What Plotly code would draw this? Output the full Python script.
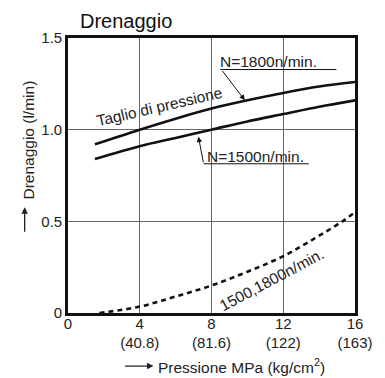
import plotly.graph_objects as go

# Data
p_1800 = [1.5, 4, 6, 8, 10, 12, 14, 16]
d_1800 = [0.92, 1.0, 1.06, 1.115, 1.16, 1.2, 1.235, 1.26]
p_1500 = [1.5, 4, 6, 8, 10, 12, 14, 16]
d_1500 = [0.84, 0.91, 0.955, 1.0, 1.045, 1.085, 1.125, 1.16]
p_leak = [1.75, 4, 6, 8, 10, 12, 13.8, 15.3, 16]
d_leak = [0.0, 0.035, 0.09, 0.15, 0.225, 0.31, 0.41, 0.5, 0.55]

x_tickvals = [0, 4, 8, 12, 16]
x_ticktext = ["0", "4<br>(40.8)", "8<br>(81.6)", "12<br>(122)", "16<br>(163)"]
y_tickvals = [0, 0.5, 1.0, 1.5]
y_ticktext = ["0", "0.5", "1.0", "1.5"]

FONT = "Liberation Sans, Arial, sans-serif"
TXT = "#222222"
LBL = 15.5

fig = go.Figure()
fig.add_trace(go.Scatter(x=p_1800, y=d_1800, mode="lines",
                         line=dict(color="#111111", width=2.6, shape="spline"),
                         showlegend=False, hoverinfo="skip"))
fig.add_trace(go.Scatter(x=p_1500, y=d_1500, mode="lines",
                         line=dict(color="#111111", width=2.6, shape="spline"),
                         showlegend=False, hoverinfo="skip"))
fig.add_trace(go.Scatter(x=p_leak, y=d_leak, mode="lines",
                         line=dict(color="#111111", width=2.6, shape="spline", dash="5px,4px"),
                         showlegend=False, hoverinfo="skip"))

def a(**kw):
    kw.setdefault("xanchor", "center")
    kw.setdefault("yanchor", "middle")
    return kw

ann = []
# Title
ann.append(a(text="Drenaggio", xref="paper", yref="paper", x=0.202, y=1.062,
             showarrow=False, font=dict(size=20, color="#111111", family=FONT)))
# Curve labels
ann.append(a(text="Taglio di pressione", x=5.1, y=1.128, textangle=-13,
             showarrow=False, font=dict(size=LBL, color=TXT, family=FONT)))
ann.append(a(text="1500,1800n/min.", x=11.37, y=0.182, textangle=-28,
             showarrow=False, font=dict(size=LBL, color=TXT, family=FONT)))
ann.append(a(text="N=1800n/min.", x=11.18, y=1.372,
             showarrow=False, font=dict(size=LBL, color=TXT, family=FONT)))
ann.append(a(text="N=1500n/min.", x=10.45, y=0.852,
             showarrow=False, font=dict(size=LBL, color=TXT, family=FONT)))
# leader arrows
ann.append(dict(text="", x=9.86, y=1.16, ax=8.55, ay=1.328, axref="x", ayref="y",
                showarrow=True, arrowhead=2, arrowsize=1.1, arrowwidth=1, arrowcolor="#111111"))
ann.append(dict(text="", x=7.27, y=0.962, ax=7.56, ay=0.814, axref="x", ayref="y",
                showarrow=True, arrowhead=2, arrowsize=1.1, arrowwidth=1, arrowcolor="#111111"))
# Axis titles
ann.append(a(text="Pressione MPa (kg/cm<sup>2</sup>)", xref="paper", yref="paper",
             x=0.305, y=-0.193, xanchor="left", showarrow=False,
             font=dict(size=LBL, color=TXT, family=FONT)))
ann.append(dict(text="", xref="paper", yref="paper", x=0.298, y=-0.193, ax=-30, ay=0,
                showarrow=True, arrowhead=2, arrowsize=1, arrowwidth=1.3, arrowcolor="#222222"))
ann.append(a(text="Drenaggio (l/min)", xref="paper", yref="paper",
             x=-0.141, y=0.629, textangle=-90, showarrow=False,
             font=dict(size=LBL, color=TXT, family=FONT)))
ann.append(dict(text="", xref="paper", yref="paper", x=-0.151, y=0.385, ax=0, ay=26,
                showarrow=True, arrowhead=2, arrowsize=1, arrowwidth=1.3, arrowcolor="#222222"))

shapes = [
    dict(type="line", x0=8.49, x1=14.96, y0=1.328, y1=1.328, line=dict(color="#111111", width=1)),
    dict(type="line", x0=7.56, x1=13.42, y0=0.814, y1=0.814, line=dict(color="#111111", width=1)),
]

fig.update_layout(
    width=385, height=378,
    margin=dict(l=68, r=25, t=38, b=65),
    paper_bgcolor="white", plot_bgcolor="white",
    annotations=ann, shapes=shapes,
    font=dict(family=FONT, color=TXT, size=15),
)
fig.update_xaxes(range=[0, 16], tickvals=x_tickvals, ticktext=x_ticktext,
                 showgrid=True, gridcolor="#666666", gridwidth=1.2,
                 showline=True, linecolor="#111111", linewidth=2.6, mirror=True,
                 ticks="", zeroline=False, ticklabelstandoff=-5,
                 tickfont=dict(size=15, color=TXT))
fig.update_yaxes(range=[0, 1.5], tickvals=y_tickvals, ticktext=y_ticktext,
                 showgrid=True, gridcolor="#666666", gridwidth=1.2,
                 showline=True, linecolor="#111111", linewidth=2.6, mirror=True,
                 ticks="", zeroline=False, tickfont=dict(size=15, color=TXT))

fig.write_html("out.html")
